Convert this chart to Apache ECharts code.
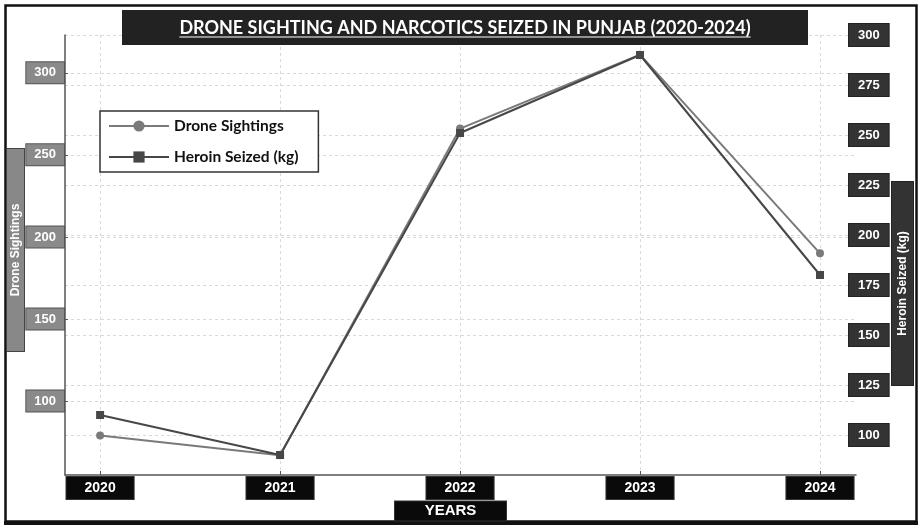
<!DOCTYPE html>
<html><head><meta charset="utf-8">
<script src="https://cdn.jsdelivr.net/npm/echarts@6/dist/echarts.min.js"></script>
<style>html,body{margin:0;padding:0;background:#fff;}#c{width:918px;height:525px;}</style>
</head><body><div id="c"></div>
<script>
const years = [2020, 2021, 2022, 2023, 2024];
const droneSightings = [79, 67, 266, 311, 190];
const heroinSeized = [110, 90, 251, 290, 180];
const leftTicks = [100, 150, 200, 250, 300];
const rightTicks = [100, 125, 150, 175, 200, 225, 250, 275, 300];
const titleText = 'DRONE SIGHTING AND NARCOTICS SEIZED IN PUNJAB (2020-2024)';
const seriesNames = ['Drone Sightings', 'Heroin Seized (kg)'];
const xName = 'YEARS';

const ctx = document.createElement('canvas').getContext('2d');
function tw(text, font) { ctx.font = font; return ctx.measureText(text).width; }

const titleFont = 'bold 18px Lato';
const titleW = tw(titleText, titleFont);
const nameFont = 'bold 12px "Liberation Sans"';
const yearsFont = 'bold 15px "Liberation Sans"';
const padH = (t, f, w) => Math.max(2, (w - tw(t, f)) / 2);

const chart = echarts.init(document.getElementById('c'), null, { renderer: 'canvas' });
const lab = 'Liberation Sans';
const dashed = { type: [3, 3], color: '#d9d9d9', width: 1 };

chart.setOption({
  animation: false,
  backgroundColor: '#fff',
  title: {
    text: titleText,
    left: 122, top: 10,
    backgroundColor: '#222',
    padding: [9, (686 - titleW) / 2, 8, (686 - titleW) / 2],
    textStyle: { color: '#fff', fontFamily: 'Lato', fontWeight: 'bold', fontSize: 18, lineHeight: 18 }
  },
  legend: {
    data: seriesNames,
    orient: 'vertical', left: 100, top: 111,
    backgroundColor: '#fff', borderColor: '#333', borderWidth: 1.5,
    padding: [7, 20, 7, 8],
    itemWidth: 60, itemHeight: 14, itemGap: 15,
    textStyle: { fontFamily: 'Lato', fontWeight: 'bold', fontSize: 15.5, color: '#111' }
  },
  grid: { left: 65, right: 62, top: 35, bottom: 50, containLabel: false },
  xAxis: {
    type: 'value', min: 2019.805, max: 2024.2,
    axisLine: { show: true, lineStyle: { color: '#555', width: 1.5 } },
    axisTick: { show: true, inside: true, length: 4, customValues: years, lineStyle: { color: '#555' } },
    axisLabel: {
      customValues: years, formatter: v => String(v), margin: 2,
      color: '#fff', backgroundColor: '#0a0a0a', borderColor: '#333', borderWidth: 1,
      fontFamily: lab, fontWeight: 'bold', fontSize: 14, lineHeight: 16, padding: [3, 18, 3, 18]
    },
    splitLine: { show: true, lineStyle: dashed }
  },
  yAxis: [{
    type: 'value', position: 'left', min: 55, max: 323,
    axisLine: { show: true, lineStyle: { color: '#555', width: 1.5 } },
    axisTick: { show: true, inside: true, length: 3, customValues: leftTicks, lineStyle: { color: '#555' } },
    axisLabel: {
      customValues: leftTicks, margin: 1,
      color: '#fff', backgroundColor: '#8a8a8a', borderColor: '#555', borderWidth: 1,
      fontFamily: lab, fontWeight: 'bold', fontSize: 13, lineHeight: 14, padding: [4, 8, 3, 8]
    },
    splitLine: { show: true, lineStyle: dashed }
  }, {
    type: 'value', position: 'right', min: 80, max: 300, offset: -7,
    axisLine: { show: false },
    axisTick: { show: false, customValues: rightTicks },
    axisLabel: {
      customValues: rightTicks, margin: 0,
      color: '#fff', backgroundColor: '#333', borderColor: '#222', borderWidth: 1,
      fontFamily: lab, fontWeight: 'bold', fontSize: 13, lineHeight: 14, padding: [4, 9, 4, 9]
    },
    splitLine: { show: true, lineStyle: dashed }
  }],
  series: [{
    name: seriesNames[0], type: 'line', yAxisIndex: 0,
    data: years.map((y, i) => [y, droneSightings[i]]),
    symbol: 'circle', symbolSize: 8,
    color: '#7a7a7a', lineStyle: { color: '#7a7a7a', width: 2 }, itemStyle: { color: '#7a7a7a' }
  }, {
    name: seriesNames[1], type: 'line', yAxisIndex: 1,
    data: years.map((y, i) => [y, heroinSeized[i]]),
    symbol: 'rect', symbolSize: 8,
    color: '#474747', lineStyle: { color: '#474747', width: 2 }, itemStyle: { color: '#474747' }
  }],
  graphic: [
    { type: 'rect', z: 100, silent: true, shape: { x: 5.5, y: 5.5, width: 911, height: 516 },
      style: { fill: 'none', stroke: '#111', lineWidth: 2.5 } },
    { type: 'rect', z: 100, silent: true, shape: { x: 4, y: 521, width: 914, height: 4 }, style: { fill: '#111' } },
    { type: 'line', z: 100, silent: true,
      shape: { x1: 465 - titleW / 2, y1: 37, x2: 465 + titleW / 2, y2: 37 },
      style: { stroke: '#fff', lineWidth: 1.2 } },
    { type: 'text', z: 100, x: 15.5, y: 250, rotation: Math.PI / 2,
      style: { text: 'Drone Sightings', fill: '#fff', font: nameFont, lineHeight: 12,
        backgroundColor: '#888', borderColor: '#444', borderWidth: 1,
        padding: [2.5, padH('Drone Sightings', nameFont, 202)], align: 'center', verticalAlign: 'middle' } },
    { type: 'text', z: 100, x: 902.5, y: 283.5, rotation: Math.PI / 2,
      style: { text: seriesNames[1], fill: '#fff', font: nameFont, lineHeight: 12,
        backgroundColor: '#333', borderColor: '#222', borderWidth: 1,
        padding: [4.5, padH(seriesNames[1], nameFont, 203)], align: 'center', verticalAlign: 'middle' } },
    { type: 'text', z: 100, x: 450.5, y: 511,
      style: { text: xName, fill: '#fff', font: yearsFont, lineHeight: 15,
        backgroundColor: '#0a0a0a', borderColor: '#333', borderWidth: 1,
        padding: [2, padH(xName, yearsFont, 111)], align: 'center', verticalAlign: 'middle' } }
  ]
});
</script></body></html>
